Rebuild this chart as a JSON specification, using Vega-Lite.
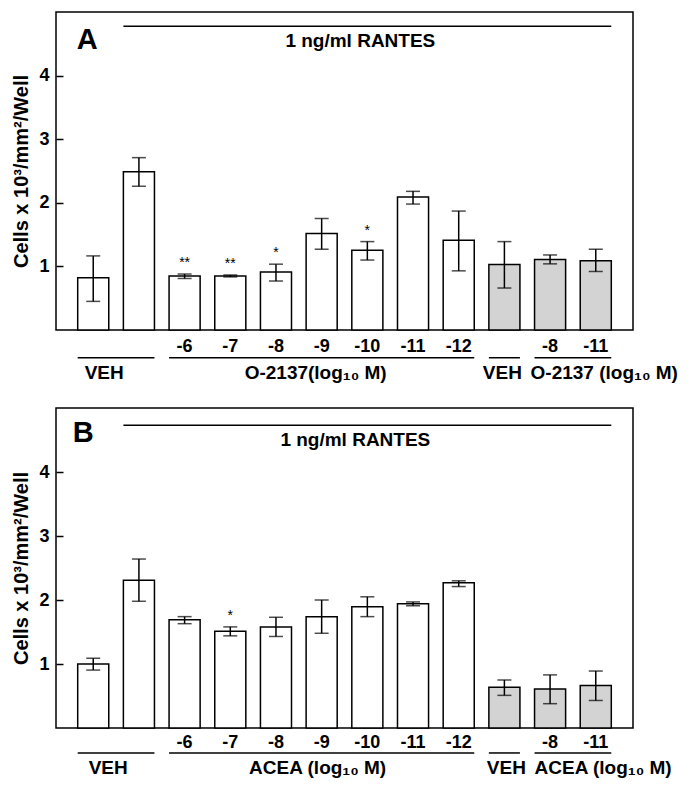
{
  "$schema": "https://vega.github.io/schema/vega-lite/v6.json",
  "padding": {"left": 11, "top": 11, "right": 5, "bottom": 5},
  "background": "white",
  "bounds": "flush",
  "spacing": 78,
  "config": {
    "view": {"stroke": "black", "strokeWidth": 1.5},
    "text": {"font": "Liberation Sans", "fontWeight": "bold", "fontSize": 18, "color": "black"},
    "axisY": {
      "domain": false, "grid": false,
      "tickSize": -7, "tickWidth": 1.5, "tickColor": "black",
      "labelFont": "Liberation Sans", "labelFontSize": 18, "labelFontWeight": "bold", "labelColor": "black", "labelPadding": 14,
      "titleFont": "Liberation Sans", "titleFontSize": 20, "titleFontWeight": "bold", "titleColor": "black", "titlePadding": 7
    }
  },
  "datasets": {
    "barsA": [
      {"id": "1", "mean": 0.82, "lo": 0.45, "hi": 1.165, "grp": "w", "lab": "", "star": ""},
      {"id": "2", "mean": 2.49, "lo": 2.26, "hi": 2.71, "grp": "w", "lab": "", "star": ""},
      {"id": "3", "mean": 0.85, "lo": 0.81, "hi": 0.88, "grp": "w", "lab": "-6", "star": "**"},
      {"id": "4", "mean": 0.85, "lo": 0.835, "hi": 0.865, "grp": "w", "lab": "-7", "star": "**"},
      {"id": "5", "mean": 0.913, "lo": 0.77, "hi": 1.035, "grp": "w", "lab": "-8", "star": "*"},
      {"id": "6", "mean": 1.517, "lo": 1.27, "hi": 1.753, "grp": "w", "lab": "-9", "star": ""},
      {"id": "7", "mean": 1.255, "lo": 1.10, "hi": 1.39, "grp": "w", "lab": "-10", "star": "*"},
      {"id": "8", "mean": 2.09, "lo": 1.98, "hi": 2.18, "grp": "w", "lab": "-11", "star": ""},
      {"id": "9", "mean": 1.41, "lo": 0.93, "hi": 1.87, "grp": "w", "lab": "-12", "star": ""},
      {"id": "10", "mean": 1.03, "lo": 0.66, "hi": 1.39, "grp": "g", "lab": "", "star": ""},
      {"id": "11", "mean": 1.107, "lo": 1.04, "hi": 1.18, "grp": "g", "lab": "-8", "star": ""},
      {"id": "12", "mean": 1.09, "lo": 0.92, "hi": 1.27, "grp": "g", "lab": "-11", "star": ""}
    ],
    "barsB": [
      {"id": "1", "mean": 1.0, "lo": 0.905, "hi": 1.09, "grp": "w", "lab": "", "star": ""},
      {"id": "2", "mean": 2.31, "lo": 1.98, "hi": 2.64, "grp": "w", "lab": "", "star": ""},
      {"id": "3", "mean": 1.69, "lo": 1.63, "hi": 1.74, "grp": "w", "lab": "-6", "star": ""},
      {"id": "4", "mean": 1.51, "lo": 1.44, "hi": 1.58, "grp": "w", "lab": "-7", "star": "*"},
      {"id": "5", "mean": 1.58, "lo": 1.43, "hi": 1.73, "grp": "w", "lab": "-8", "star": ""},
      {"id": "6", "mean": 1.74, "lo": 1.48, "hi": 2.0, "grp": "w", "lab": "-9", "star": ""},
      {"id": "7", "mean": 1.895, "lo": 1.74, "hi": 2.05, "grp": "w", "lab": "-10", "star": ""},
      {"id": "8", "mean": 1.94, "lo": 1.91, "hi": 1.97, "grp": "w", "lab": "-11", "star": ""},
      {"id": "9", "mean": 2.27, "lo": 2.21, "hi": 2.30, "grp": "w", "lab": "-12", "star": ""},
      {"id": "10", "mean": 0.635, "lo": 0.51, "hi": 0.75, "grp": "g", "lab": "", "star": ""},
      {"id": "11", "mean": 0.61, "lo": 0.38, "hi": 0.83, "grp": "g", "lab": "-8", "star": ""},
      {"id": "12", "mean": 0.665, "lo": 0.43, "hi": 0.89, "grp": "g", "lab": "-11", "star": ""}
    ],
    "groupLines": [
      {"a": "1", "b": "2"},
      {"a": "3", "b": "9"},
      {"a": "10", "b": "10"},
      {"a": "11", "b": "12"}
    ]
  },
  "vconcat": [
    {
      "width": 577,
      "height": 318,
      "layer": [
        {
          "data": {"name": "barsA"},
          "mark": {"type": "bar", "stroke": "black", "strokeWidth": 1.5},
          "encoding": {
            "x": {"field": "id", "type": "nominal", "axis": null, "sort": null,
                  "scale": {"domain": ["1","2","3","4","5","6","7","8","9","10","11","12"], "paddingInner": 0.32, "paddingOuter": 0.475}},
            "y": {"field": "mean", "type": "quantitative", "title": "Cells x 10³/mm²/Well", "axis": {"values": [1, 2, 3, 4]}, "scale": {"domain": [0, 5], "nice": false}},
            "fill": {"field": "grp", "type": "nominal", "legend": null, "scale": {"domain": ["w", "g"], "range": ["white", "#d3d3d3"]}}
          }
        },
        {
          "data": {"name": "barsA"},
          "mark": {"type": "rule", "color": "black", "strokeWidth": 1.5},
          "encoding": {
            "x": {"field": "id", "type": "nominal", "axis": null},
            "y": {"field": "lo", "type": "quantitative", "title": "Cells x 10³/mm²/Well", "axis": {"values": [1, 2, 3, 4]}},
            "y2": {"field": "hi"}
          }
        },
        {
          "data": {"name": "barsA"},
          "mark": {"type": "tick", "color": "black", "size": 14, "thickness": 1.5},
          "encoding": {
            "x": {"field": "id", "type": "nominal", "axis": null},
            "y": {"field": "lo", "type": "quantitative", "title": "Cells x 10³/mm²/Well", "axis": {"values": [1, 2, 3, 4]}}
          }
        },
        {
          "data": {"name": "barsA"},
          "mark": {"type": "tick", "color": "black", "size": 14, "thickness": 1.5},
          "encoding": {
            "x": {"field": "id", "type": "nominal", "axis": null},
            "y": {"field": "hi", "type": "quantitative", "title": "Cells x 10³/mm²/Well", "axis": {"values": [1, 2, 3, 4]}}
          }
        },
        {
          "data": {"name": "barsA"},
          "mark": {"type": "text", "fontSize": 14, "fontWeight": "normal", "dy": -7, "baseline": "alphabetic"},
          "encoding": {
            "x": {"field": "id", "type": "nominal", "axis": null},
            "y": {"field": "hi", "type": "quantitative", "title": "Cells x 10³/mm²/Well", "axis": {"values": [1, 2, 3, 4]}},
            "text": {"field": "star"}
          }
        },
        {
          "data": {"name": "barsA"},
          "mark": {"type": "text", "fontSize": 18, "baseline": "alphabetic"},
          "encoding": {
            "x": {"field": "id", "type": "nominal", "axis": null},
            "y": {"datum": -0.342, "type": "quantitative", "title": "Cells x 10³/mm²/Well", "axis": {"values": [1, 2, 3, 4]}},
            "text": {"field": "lab"}
          }
        },
        {
          "data": {"name": "groupLines"},
          "mark": {"type": "rule", "color": "black", "strokeWidth": 1.5},
          "encoding": {
            "x": {"field": "a", "type": "nominal", "axis": null, "bandPosition": 0},
            "x2": {"field": "b", "bandPosition": 1},
            "y": {"datum": -0.436, "type": "quantitative", "title": "Cells x 10³/mm²/Well", "axis": {"values": [1, 2, 3, 4]}}
          }
        },
        {
          "data": {"values": [{"id": "1", "txt": "VEH"}]},
          "mark": {"type": "text", "fontSize": 19, "baseline": "alphabetic", "dx": 11},
          "encoding": {
            "x": {"field": "id", "type": "nominal", "axis": null},
            "y": {"datum": -0.767, "type": "quantitative", "title": "Cells x 10³/mm²/Well", "axis": {"values": [1, 2, 3, 4]}},
            "text": {"field": "txt"}
          }
        },
        {
          "data": {"values": [{"id": "6", "txt": "O-2137(log₁₀ M)"}]},
          "mark": {"type": "text", "fontSize": 19, "baseline": "alphabetic", "dx": -6},
          "encoding": {
            "x": {"field": "id", "type": "nominal", "axis": null},
            "y": {"datum": -0.767, "type": "quantitative", "title": "Cells x 10³/mm²/Well", "axis": {"values": [1, 2, 3, 4]}},
            "text": {"field": "txt"}
          }
        },
        {
          "data": {"values": [{"id": "10", "txt": "VEH"}]},
          "mark": {"type": "text", "fontSize": 19, "baseline": "alphabetic", "dx": -2},
          "encoding": {
            "x": {"field": "id", "type": "nominal", "axis": null},
            "y": {"datum": -0.767, "type": "quantitative", "title": "Cells x 10³/mm²/Well", "axis": {"values": [1, 2, 3, 4]}},
            "text": {"field": "txt"}
          }
        },
        {
          "data": {"values": [{"id": "11", "txt": "O-2137 (log₁₀ M)"}]},
          "mark": {"type": "text", "fontSize": 19, "baseline": "alphabetic", "align": "left", "dx": -4},
          "encoding": {
            "x": {"field": "id", "type": "nominal", "axis": null, "bandPosition": 0},
            "y": {"datum": -0.767, "type": "quantitative", "title": "Cells x 10³/mm²/Well", "axis": {"values": [1, 2, 3, 4]}},
            "text": {"field": "txt"}
          }
        },
        {
          "data": {"values": [{"a": "2", "b": "12"}]},
          "mark": {"type": "rule", "color": "black", "strokeWidth": 1.5},
          "encoding": {
            "x": {"field": "a", "type": "nominal", "axis": null, "bandPosition": 0},
            "x2": {"field": "b", "bandPosition": 1},
            "y": {"datum": 4.776, "type": "quantitative", "title": "Cells x 10³/mm²/Well", "axis": {"values": [1, 2, 3, 4]}}
          }
        },
        {
          "data": {"values": [{"id": "7", "txt": "1 ng/ml RANTES"}]},
          "mark": {"type": "text", "fontSize": 19, "baseline": "alphabetic", "dx": -7},
          "encoding": {
            "x": {"field": "id", "type": "nominal", "axis": null},
            "y": {"datum": 4.457, "type": "quantitative", "title": "Cells x 10³/mm²/Well", "axis": {"values": [1, 2, 3, 4]}},
            "text": {"field": "txt"}
          }
        },
        {
          "data": {"values": [{"id": "1", "txt": "A"}]},
          "mark": {"type": "text", "fontSize": 29, "baseline": "alphabetic", "align": "left", "dx": -1},
          "encoding": {
            "x": {"field": "id", "type": "nominal", "axis": null, "bandPosition": 0},
            "y": {"datum": 4.425, "type": "quantitative", "title": "Cells x 10³/mm²/Well", "axis": {"values": [1, 2, 3, 4]}},
            "text": {"field": "txt"}
          }
        }
      ]
    },
    {
      "width": 577,
      "height": 320,
      "layer": [
        {
          "data": {"name": "barsB"},
          "mark": {"type": "bar", "stroke": "black", "strokeWidth": 1.5},
          "encoding": {
            "x": {"field": "id", "type": "nominal", "axis": null, "sort": null,
                  "scale": {"domain": ["1","2","3","4","5","6","7","8","9","10","11","12"], "paddingInner": 0.32, "paddingOuter": 0.475}},
            "y": {"field": "mean", "type": "quantitative", "title": "Cells x 10³/mm²/Well", "axis": {"values": [1, 2, 3, 4]}, "scale": {"domain": [0, 5], "nice": false}},
            "fill": {"field": "grp", "type": "nominal", "legend": null, "scale": {"domain": ["w", "g"], "range": ["white", "#d3d3d3"]}}
          }
        },
        {
          "data": {"name": "barsB"},
          "mark": {"type": "rule", "color": "black", "strokeWidth": 1.5},
          "encoding": {
            "x": {"field": "id", "type": "nominal", "axis": null},
            "y": {"field": "lo", "type": "quantitative", "title": "Cells x 10³/mm²/Well", "axis": {"values": [1, 2, 3, 4]}},
            "y2": {"field": "hi"}
          }
        },
        {
          "data": {"name": "barsB"},
          "mark": {"type": "tick", "color": "black", "size": 14, "thickness": 1.5},
          "encoding": {
            "x": {"field": "id", "type": "nominal", "axis": null},
            "y": {"field": "lo", "type": "quantitative", "title": "Cells x 10³/mm²/Well", "axis": {"values": [1, 2, 3, 4]}}
          }
        },
        {
          "data": {"name": "barsB"},
          "mark": {"type": "tick", "color": "black", "size": 14, "thickness": 1.5},
          "encoding": {
            "x": {"field": "id", "type": "nominal", "axis": null},
            "y": {"field": "hi", "type": "quantitative", "title": "Cells x 10³/mm²/Well", "axis": {"values": [1, 2, 3, 4]}}
          }
        },
        {
          "data": {"name": "barsB"},
          "mark": {"type": "text", "fontSize": 14, "fontWeight": "normal", "dy": -7, "baseline": "alphabetic"},
          "encoding": {
            "x": {"field": "id", "type": "nominal", "axis": null},
            "y": {"field": "hi", "type": "quantitative", "title": "Cells x 10³/mm²/Well", "axis": {"values": [1, 2, 3, 4]}},
            "text": {"field": "star"}
          }
        },
        {
          "data": {"name": "barsB"},
          "mark": {"type": "text", "fontSize": 18, "baseline": "alphabetic"},
          "encoding": {
            "x": {"field": "id", "type": "nominal", "axis": null},
            "y": {"datum": -0.32, "type": "quantitative", "title": "Cells x 10³/mm²/Well", "axis": {"values": [1, 2, 3, 4]}},
            "text": {"field": "lab"}
          }
        },
        {
          "data": {"name": "groupLines"},
          "mark": {"type": "rule", "color": "black", "strokeWidth": 1.5},
          "encoding": {
            "x": {"field": "a", "type": "nominal", "axis": null, "bandPosition": 0},
            "x2": {"field": "b", "bandPosition": 1},
            "y": {"datum": -0.39, "type": "quantitative", "title": "Cells x 10³/mm²/Well", "axis": {"values": [1, 2, 3, 4]}}
          }
        },
        {
          "data": {"values": [{"id": "1", "txt": "VEH"}]},
          "mark": {"type": "text", "fontSize": 19, "baseline": "alphabetic", "dx": 15},
          "encoding": {
            "x": {"field": "id", "type": "nominal", "axis": null},
            "y": {"datum": -0.72, "type": "quantitative", "title": "Cells x 10³/mm²/Well", "axis": {"values": [1, 2, 3, 4]}},
            "text": {"field": "txt"}
          }
        },
        {
          "data": {"values": [{"id": "6", "txt": "ACEA (log₁₀ M)"}]},
          "mark": {"type": "text", "fontSize": 19, "baseline": "alphabetic", "dx": -4},
          "encoding": {
            "x": {"field": "id", "type": "nominal", "axis": null},
            "y": {"datum": -0.72, "type": "quantitative", "title": "Cells x 10³/mm²/Well", "axis": {"values": [1, 2, 3, 4]}},
            "text": {"field": "txt"}
          }
        },
        {
          "data": {"values": [{"id": "10", "txt": "VEH"}]},
          "mark": {"type": "text", "fontSize": 19, "baseline": "alphabetic", "dx": 2},
          "encoding": {
            "x": {"field": "id", "type": "nominal", "axis": null},
            "y": {"datum": -0.72, "type": "quantitative", "title": "Cells x 10³/mm²/Well", "axis": {"values": [1, 2, 3, 4]}},
            "text": {"field": "txt"}
          }
        },
        {
          "data": {"values": [{"id": "11", "txt": "ACEA  (log₁₀ M)"}]},
          "mark": {"type": "text", "fontSize": 19, "baseline": "alphabetic", "align": "left", "dx": 0},
          "encoding": {
            "x": {"field": "id", "type": "nominal", "axis": null, "bandPosition": 0},
            "y": {"datum": -0.72, "type": "quantitative", "title": "Cells x 10³/mm²/Well", "axis": {"values": [1, 2, 3, 4]}},
            "text": {"field": "txt"}
          }
        },
        {
          "data": {"values": [{"a": "2", "b": "12"}]},
          "mark": {"type": "rule", "color": "black", "strokeWidth": 1.5},
          "encoding": {
            "x": {"field": "a", "type": "nominal", "axis": null, "bandPosition": 0},
            "x2": {"field": "b", "bandPosition": 1},
            "y": {"datum": 4.73, "type": "quantitative", "title": "Cells x 10³/mm²/Well", "axis": {"values": [1, 2, 3, 4]}}
          }
        },
        {
          "data": {"values": [{"id": "7", "txt": "1 ng/ml RANTES"}]},
          "mark": {"type": "text", "fontSize": 19, "baseline": "alphabetic", "dx": -12},
          "encoding": {
            "x": {"field": "id", "type": "nominal", "axis": null},
            "y": {"datum": 4.41, "type": "quantitative", "title": "Cells x 10³/mm²/Well", "axis": {"values": [1, 2, 3, 4]}},
            "text": {"field": "txt"}
          }
        },
        {
          "data": {"values": [{"id": "1", "txt": "B"}]},
          "mark": {"type": "text", "fontSize": 29, "baseline": "alphabetic", "align": "left", "dx": -5},
          "encoding": {
            "x": {"field": "id", "type": "nominal", "axis": null, "bandPosition": 0},
            "y": {"datum": 4.47, "type": "quantitative", "title": "Cells x 10³/mm²/Well", "axis": {"values": [1, 2, 3, 4]}},
            "text": {"field": "txt"}
          }
        }
      ]
    }
  ]
}
